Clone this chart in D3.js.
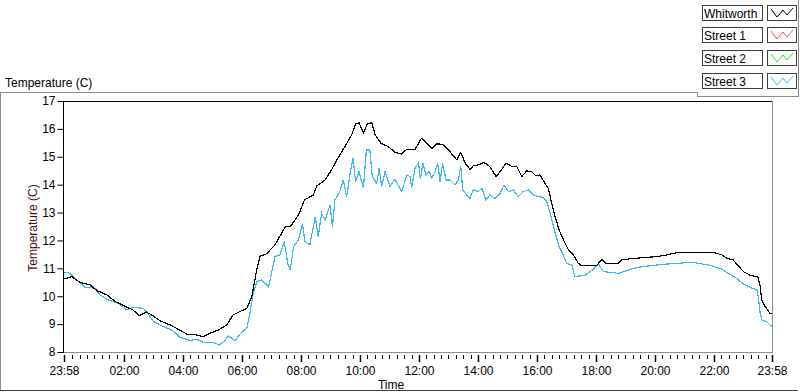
<!DOCTYPE html>
<html>
<head>
<meta charset="utf-8">
<script src="https://cdn.jsdelivr.net/npm/d3@7"></script>
<style>
  body { margin: 0; background: #fff; }
  svg { display: block; font-family: "Liberation Sans", Arial, sans-serif; font-size: 12px; }
</style>
</head>
<body>
<svg id="chart" width="800" height="392"></svg>
<script>
// series names shown in the legend
const seriesNames = ["Whitworth", "Street 1", "Street 2", "Street 3"];
const seriesColors = ["#000000", "#ff4a4a", "#2ee02e", "#3cb9f2"];

// minutes after 23:58 / temperature (C)
const whitworthMinutes = [0, 16, 33, 53, 67, 87, 104, 128, 140, 153, 168, 182, 195, 216, 232, 250, 270, 283, 297, 314,
  331, 344, 358, 372, 382, 392, 399, 412, 429, 450, 460, 477, 489, 507, 514, 531, 544, 555, 565, 575,
  585, 593, 600, 609, 617, 626, 633, 645, 660, 673, 687, 697, 714, 727, 737, 748, 758, 771, 785, 799,
  807, 816, 826, 832, 843, 854, 866, 879, 887, 899, 911, 921, 931, 941, 951, 960, 968, 976, 985, 992,
  999, 1007, 1016, 1026, 1036, 1046, 1053, 1083, 1094, 1102, 1127, 1134, 1155, 1205, 1226, 1246, 1324, 1338, 1348, 1361,
  1371, 1382, 1395, 1412, 1416, 1419, 1426, 1436, 1440];
const whitworthTemp = [10.62, 10.70, 10.49, 10.41, 10.20, 10.05, 9.81, 9.61, 9.51, 9.31, 9.43, 9.29, 9.12, 8.97, 8.82, 8.64, 8.61, 8.55, 8.67, 8.79,
  8.97, 9.33, 9.45, 9.57, 9.99, 10.94, 11.44, 11.52, 11.84, 12.49, 12.49, 12.91, 13.45, 13.63, 13.95, 14.17, 14.53, 14.89, 15.18, 15.48,
  15.78, 16.18, 16.22, 15.86, 16.18, 16.22, 15.78, 15.48, 15.36, 15.16, 15.10, 15.27, 15.27, 15.66, 15.51, 15.30, 15.46, 15.45, 15.18, 14.89,
  15.16, 14.77, 14.55, 14.67, 14.71, 14.80, 14.65, 14.29, 14.47, 14.77, 14.65, 14.65, 14.29, 14.49, 14.47, 14.31, 14.35, 14.11, 13.87, 13.33,
  12.85, 12.38, 12.02, 11.66, 11.48, 11.18, 11.09, 11.09, 11.33, 11.18, 11.18, 11.30, 11.35, 11.42, 11.48, 11.56, 11.56, 11.48, 11.36, 11.30,
  11.10, 10.88, 10.76, 10.68, 10.34, 9.87, 9.63, 9.39, 9.39];

const street1Minutes = [];
const street1Temp = [];
const street2Minutes = [];
const street2Temp = [];

const street3Minutes = [0, 9, 19, 43, 60, 73, 90, 110, 128, 142, 158, 168, 182, 202, 219, 236, 256, 270, 283, 304,
  316, 327, 334, 348, 358, 372, 378, 385, 392, 402, 416, 422, 429, 439, 448, 455, 460, 467, 477, 485,
  490, 500, 511, 517, 524, 531, 541, 546, 551, 561, 568, 575, 582, 588, 593, 600, 609, 615, 622, 627,
  636, 641, 646, 653, 663, 673, 687, 697, 704, 707, 714, 721, 725, 730, 736, 743, 748, 755, 760, 765,
  770, 777, 785, 795, 802, 807, 811, 819, 826, 832, 843, 850, 858, 866, 877, 887, 895, 904, 914, 924,
  934, 944, 955, 965, 974, 982, 987, 994, 1001, 1007, 1014, 1022, 1033, 1039, 1049, 1060, 1077, 1087, 1097, 1114,
  1127, 1148, 1168, 1195, 1222, 1249, 1277, 1297, 1317, 1338, 1351, 1368, 1382, 1395, 1409, 1412, 1416, 1419, 1429, 1436, 1440];
const street3Temp = [10.85, 10.85, 10.70, 10.31, 10.34, 10.05, 9.87, 9.75, 9.51, 9.61, 9.57, 9.45, 9.09, 8.91, 8.79, 8.53, 8.41, 8.46, 8.35, 8.34,
  8.25, 8.41, 8.58, 8.40, 8.65, 8.85, 9.39, 10.11, 10.52, 10.58, 10.34, 10.82, 11.42, 11.48, 11.96, 11.18, 10.94, 11.78, 12.02, 12.59,
  11.96, 11.84, 12.85, 12.14, 12.98, 12.73, 13.27, 12.49, 13.45, 13.75, 14.17, 13.57, 14.41, 14.95, 14.11, 14.47, 13.87, 15.24, 15.24, 14.29,
  14.05, 14.59, 13.93, 14.47, 13.93, 14.19, 13.75, 14.35, 14.29, 13.87, 14.59, 14.79, 14.19, 14.77, 14.35, 14.47, 14.23, 14.47, 14.77, 14.11,
  14.77, 14.17, 14.17, 13.99, 14.17, 14.65, 13.81, 13.63, 13.51, 13.81, 13.75, 13.87, 13.45, 13.63, 13.51, 13.69, 13.99, 13.75, 13.81, 13.57,
  13.75, 13.81, 13.63, 13.57, 13.55, 13.39, 13.09, 12.62, 12.14, 11.78, 11.54, 11.18, 11.12, 10.70, 10.73, 10.76, 10.97, 11.16, 10.88, 10.85,
  10.82, 10.94, 11.04, 11.10, 11.15, 11.18, 11.22, 11.16, 11.10, 10.97, 10.82, 10.64, 10.44, 10.32, 10.23, 9.99, 9.39, 9.15, 9.09, 8.97, 8.91];

const xTickLabels = ["23:58", "02:00", "04:00", "06:00", "08:00", "10:00", "12:00", "14:00", "16:00", "18:00", "20:00", "22:00", "23:58"];
const yTicks = [8, 9, 10, 11, 12, 13, 14, 15, 16, 17];

const svg = d3.select("#chart");
const start = new Date(2014, 0, 1, 23, 58);
const end = d3.timeDay.offset(start, 1);

const x = d3.scaleTime().domain([start, end]).range([64, 772]);
const y = d3.scaleLinear().domain([8, 17]).range([352, 101]);

// turn tick labels into dates on the chart's day
const majorDates = xTickLabels.map((lab, i) => {
  if (i === 0) return start;
  if (i === xTickLabels.length - 1) return end;
  const [h, m] = lab.split(":").map(Number);
  return new Date(2014, 0, 2, h, m);
});

// outer frame
svg.append("line").attr("x1", 0).attr("x2", 697).attr("y1", 92.5).attr("y2", 92.5).attr("stroke", "#8c8c8c");
svg.append("line").attr("x1", 0.5).attr("x2", 0.5).attr("y1", 92).attr("y2", 391).attr("stroke", "#8c8c8c");
svg.append("line").attr("x1", 0).attr("x2", 798).attr("y1", 390.5).attr("y2", 390.5).attr("stroke", "#404040");

svg.append("text").attr("x", 5).attr("y", 87).attr("fill", "#000").text("Temperature (C)");

// plot area border
svg.append("line").attr("x1", 63).attr("x2", 772).attr("y1", 101.5).attr("y2", 101.5).attr("stroke", "#000");
svg.append("line").attr("x1", 63).attr("x2", 772).attr("y1", 352.5).attr("y2", 352.5).attr("stroke", "#8c8c8c");
svg.append("line").attr("x1", 772.5).attr("x2", 772.5).attr("y1", 101).attr("y2", 353).attr("stroke", "#8c8c8c");

// y axis
const yAxis = svg.append("g")
  .attr("transform", "translate(63.5,0)")
  .call(d3.axisLeft(y).tickValues(yTicks).tickSize(6).tickPadding(2).tickFormat(d3.format("d")));
yAxis.select(".domain").attr("stroke", "#000").attr("d", "M0,101V353");
yAxis.selectAll("text").attr("font-family", "Liberation Sans, Arial, sans-serif").attr("font-size", 12).attr("fill", "#000");

// x axis ticks: minor every 15 min, major at the labels
const minorDates = d3.timeMinute.every(15).range(start, end)
  .filter(d => d3.min(majorDates, m => Math.abs(m - d)) > 5 * 60000);
svg.append("g").selectAll("line").data(minorDates).join("line")
  .attr("x1", d => Math.round(x(d)) + 0.5).attr("x2", d => Math.round(x(d)) + 0.5)
  .attr("y1", 355).attr("y2", 359).attr("stroke", "#000");

const xAxis = svg.append("g")
  .attr("transform", "translate(0,355)")
  .call(d3.axisBottom(x).tickValues(majorDates).tickSize(7).tickPadding(4)
    .tickFormat((d, i) => xTickLabels[i]));
xAxis.select(".domain").remove();
xAxis.selectAll("line").attr("stroke", "#000").attr("stroke-width", 1.5);
xAxis.selectAll("text").attr("font-family", "Liberation Sans, Arial, sans-serif").attr("font-size", 12).attr("fill", "#000");

svg.append("text").attr("x", 391).attr("y", 389).attr("text-anchor", "middle").text("Time");
svg.append("text")
  .attr("transform", "translate(37,228) rotate(-90)")
  .attr("text-anchor", "middle").attr("fill", "#3a1414")
  .text("Temperature (C)");

// plotted lines
svg.append("clipPath").attr("id", "plotClip")
  .append("rect").attr("x", 64).attr("y", 101).attr("width", 708).attr("height", 252);

const series = [
  { mins: whitworthMinutes, temps: whitworthTemp },
  { mins: street1Minutes, temps: street1Temp },
  { mins: street2Minutes, temps: street2Temp },
  { mins: street3Minutes, temps: street3Temp }
];
const line = d3.line()
  .x(d => x(d3.timeMinute.offset(start, d[0])))
  .y(d => y(d[1]));

const plot = svg.append("g").attr("clip-path", "url(#plotClip)");
// draw Street 3 first so Whitworth sits on top
[3, 2, 1, 0].forEach(i => {
  const s = series[i];
  if (!s.mins.length) return;
  plot.append("path")
    .datum(s.mins.map((m, j) => [m, s.temps[j]]))
    .attr("fill", "none")
    .attr("stroke", seriesColors[i])
    .attr("stroke-width", 1.2)
    .attr("shape-rendering", "crispEdges")
    .attr("d", line);
});

// legend
const legend = svg.append("g");
legend.append("line").attr("x1", 798.5).attr("x2", 798.5).attr("y1", 0).attr("y2", 97).attr("stroke", "#8c8c8c");
legend.append("line").attr("x1", 697.5).attr("x2", 697.5).attr("y1", 92).attr("y2", 97).attr("stroke", "#8c8c8c");
legend.append("line").attr("x1", 697).attr("x2", 799).attr("y1", 96.5).attr("y2", 96.5).attr("stroke", "#8c8c8c");

const rows = legend.selectAll("g.row").data(seriesNames).join("g")
  .attr("class", "row")
  .attr("transform", (d, i) => `translate(0,${Math.round(4.5 + i * 22.7)})`);
rows.append("rect").attr("x", 702.5).attr("y", 0.5).attr("width", 60).attr("height", 15)
  .attr("fill", "#fff").attr("stroke", "#3c3c3c");
rows.append("text").attr("x", 704).attr("y", 12.5).attr("fill", "#000").text(d => d);
rows.append("rect").attr("x", 767.5).attr("y", 0.5).attr("width", 29).attr("height", 15)
  .attr("fill", "#fff").attr("stroke", "#3c3c3c");
rows.append("polyline")
  .attr("points", "771,4 777,12 783,5 787,10 793,3")
  .attr("fill", "none")
  .attr("stroke", (d, i) => seriesColors[i]);
</script>
</body>
</html>
